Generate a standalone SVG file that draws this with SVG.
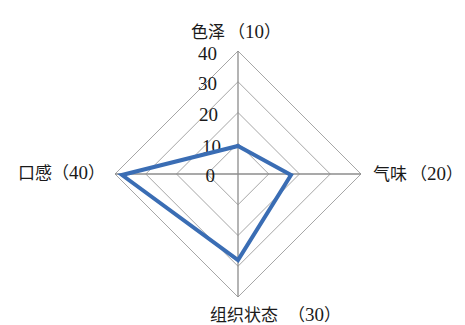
<svg xmlns="http://www.w3.org/2000/svg" width="465" height="325" viewBox="0 0 465 325">
<style>
.grid{fill:none;stroke:#a6a6a6;stroke-width:1}
.axis{stroke:#8c8c8c;stroke-width:1.3}
.series{fill:none;stroke:#3a6db4;stroke-width:4;stroke-linejoin:miter}
.num{font-family:"Liberation Serif","Noto Sans CJK SC",serif;font-size:19px;fill:#1a1a1a;text-anchor:end}
.lbl{font-family:"Liberation Serif","Noto Sans CJK SC",serif;font-size:17px;fill:#1a1a1a}
.d{font-size:19px}
</style>
<rect width="465" height="325" fill="#ffffff"/>
<g id="grid">
<polygon class="grid" points="238,143.25 268.75,174 238,204.75 207.25,174"/>
<polygon class="grid" points="238,112.5 299.5,174 238,235.5 176.5,174"/>
<polygon class="grid" points="238,81.75 330.25,174 238,266.25 145.75,174"/>
<polygon class="grid" points="238,51 361,174 238,297 115,174"/>
<line class="axis" x1="238" y1="51" x2="238" y2="297"/>
<line class="axis" x1="115" y1="174" x2="361" y2="174"/>
</g>
<g id="scale">
<text class="num" x="217" y="60">40</text>
<text class="num" x="217" y="90">30</text>
<text class="num" x="218" y="121">20</text>
<text class="num" x="221" y="153">10</text>
<text class="num" x="215" y="182">0</text>
</g>
<g id="connectors">
<polygon class="series" points="238,146 291,175 238,260 122,175"/>
</g>
<g id="node-top"><text class="lbl" x="191" y="38">色泽<tspan x="228">（</tspan><tspan class="d">10</tspan>）</text></g>
<g id="node-right"><text class="lbl" x="373" y="180">气味<tspan x="410">（</tspan><tspan class="d">20</tspan>）</text></g>
<g id="node-bottom"><text class="lbl" x="210" y="321">组织状态<tspan x="288">（</tspan><tspan class="d">30</tspan>）</text></g>
<g id="node-left"><text class="lbl" x="18" y="179">口感<tspan x="52">（</tspan><tspan class="d">40</tspan>）</text></g>
</svg>
